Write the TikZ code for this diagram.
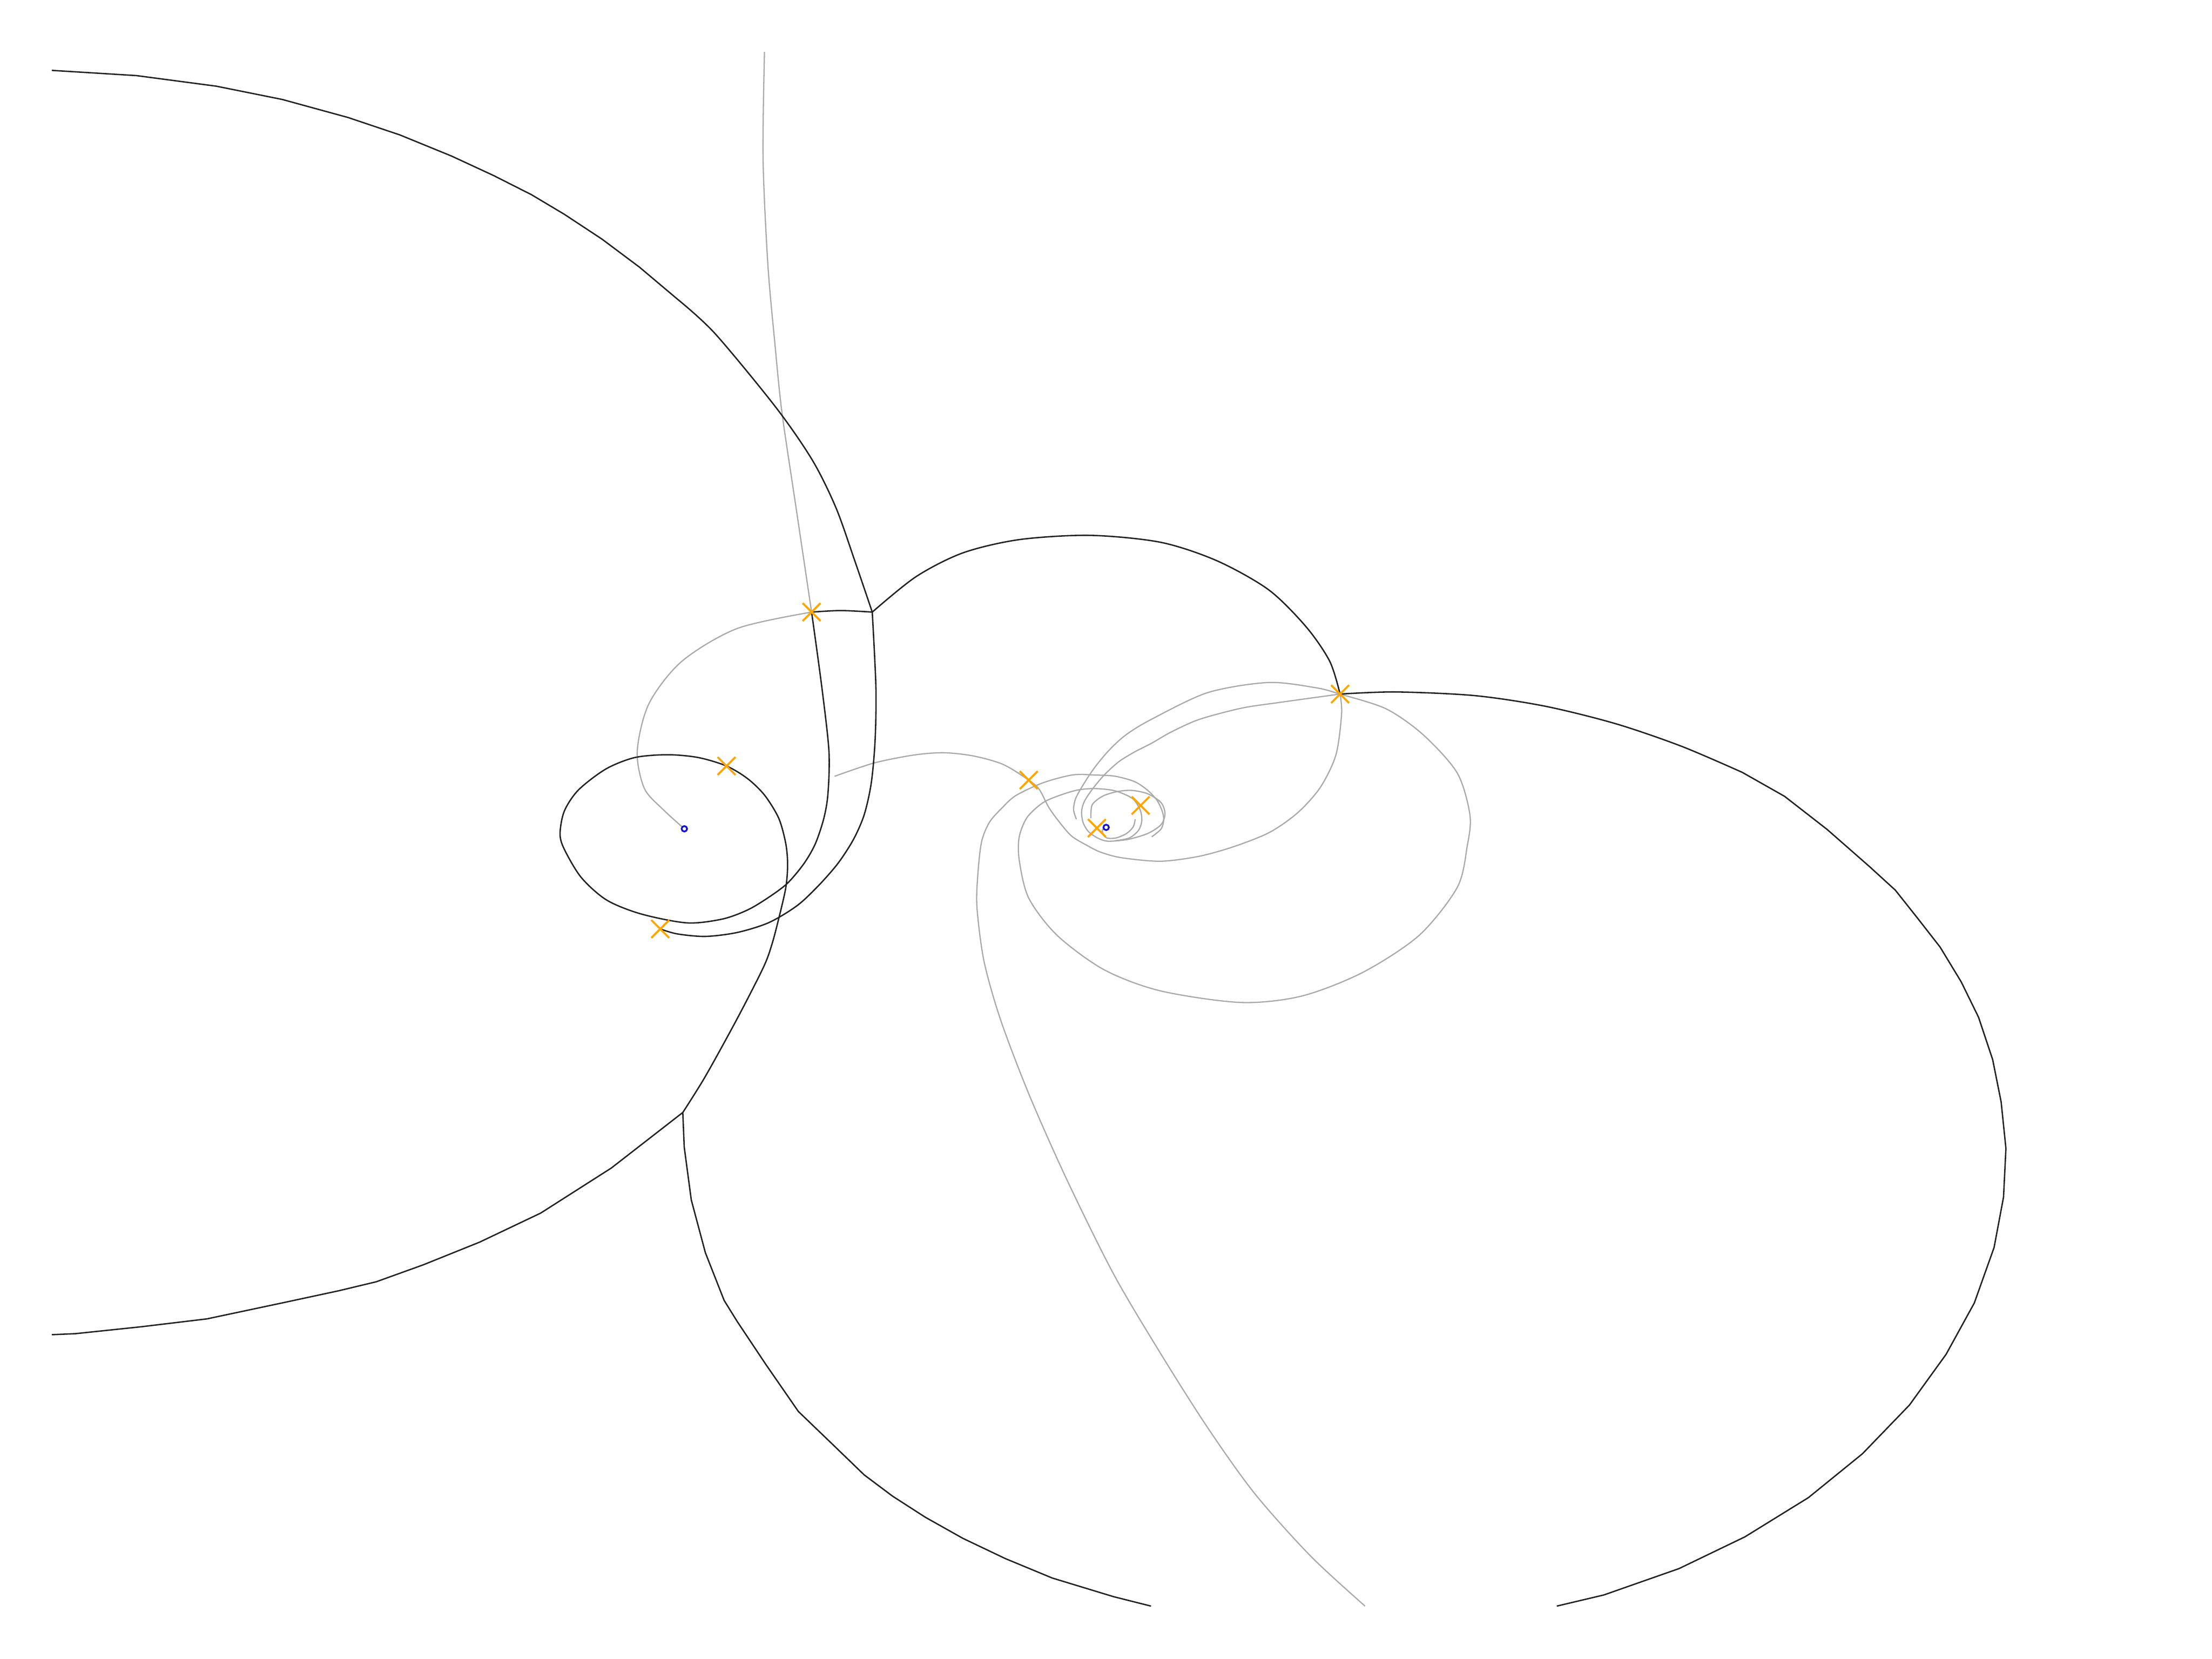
\documentclass[tikz,border=0pt]{standalone}
\usepackage{tikz,xcolor}
\usetikzlibrary{shapes.misc}

\definecolor{orbit}{RGB}{34,34,34}
\definecolor{trail}{RGB}{170,170,170}
\definecolor{hitmark}{RGB}{255,165,0}
\definecolor{bodyblue}{RGB}{20,20,215}

\tikzset{
    orbitline/.style={draw=orbit, line width=0.28pt, line join=round},
    trailline/.style={draw=trail, line width=0.25pt, line join=round},
    hit/.style={draw=hitmark, line width=0.4pt, cross out, minimum size=3.2pt, inner sep=0pt},
    body/.style={circle, draw=bodyblue, fill=white, line width=0.35pt, minimum size=1.1pt, inner sep=0pt}
}

\begin{document}
\begin{tikzpicture}

        \useasboundingbox (0,0) rectangle (15.68,-11.76);

        % Bodies
        \coordinate (b1) at (4.851,-5.875);
        \coordinate (b2) at (7.841,-5.865);

        % Junctions and hits
        \coordinate (j1) at (6.183,-4.339);
        \coordinate (j2) at (4.840,-7.886);
        \coordinate (c1) at (5.753,-4.339);
        \coordinate (c2) at (9.499,-4.920);
        \coordinate (c3) at (4.680,-6.585);
        \coordinate (c4) at (5.150,-5.430);
        \coordinate (c5) at (7.292,-5.530);
        \coordinate (c6) at (7.775,-5.870);
        \coordinate (c7) at (8.085,-5.710);

        % Grey trails
        \draw[trailline] plot[smooth] coordinates {(5.419,-0.368) (5.409,-1.125) (5.443,-1.875) (5.493,-2.438) (5.543,-2.925) (5.643,-3.600) (c1)};
        \draw[trailline] plot[smooth] coordinates {(b1) (4.700,-5.738) (4.567,-5.588) (4.517,-5.325) (4.600,-4.988) (4.833,-4.688) (5.226,-4.455) (c1)};
        \draw[trailline] plot[smooth] coordinates {(5.916,-5.503) (6.198,-5.408) (6.479,-5.352) (6.690,-5.336) (6.901,-5.359) (7.111,-5.419) (c5) (7.367,-5.596) (7.433,-5.721) (7.499,-5.814) (7.593,-5.924) (7.700,-5.990) (7.800,-6.040) (7.949,-6.080) (8.226,-6.105) (8.500,-6.070) (8.750,-6.000) (9.000,-5.900) (9.200,-5.760) (9.360,-5.580) (9.470,-5.350) (9.510,-5.060) (c2)};
        \draw[trailline] plot[smooth] coordinates {(8.164,-5.932) (8.230,-5.877) (8.249,-5.814) (8.239,-5.752) (8.202,-5.674) (8.136,-5.603) (8.043,-5.541) (7.902,-5.502) (7.761,-5.494) (7.604,-5.493) (7.393,-5.549) (7.200,-5.640) (7.100,-5.730) (7.013,-5.830) (6.957,-5.971) (6.930,-6.218) (6.926,-6.443) (6.976,-6.818) (7.093,-7.230) (7.293,-7.755) (7.559,-8.355) (7.893,-9.030) (8.226,-9.593) (8.559,-10.118) (8.893,-10.586) (9.290,-11.030) (9.676,-11.385)};
        \draw[trailline] plot[smooth] coordinates {(7.902,-5.960) (8.005,-5.940) (8.071,-5.885) (8.094,-5.814) (8.080,-5.736) (8.024,-5.658) (7.900,-5.605) (7.760,-5.590) (7.640,-5.600) (7.520,-5.635) (7.393,-5.690) (7.280,-5.795) (7.224,-5.936) (7.226,-6.105) (7.293,-6.368) (7.493,-6.630) (7.826,-6.874) (8.226,-7.024) (8.793,-7.106) (9.226,-7.061) (9.660,-6.893) (10.060,-6.630) (10.330,-6.290) (10.400,-6.000) (10.420,-5.780) (10.330,-5.480) (10.090,-5.210) (9.826,-5.025) (c2) (9.326,-4.875) (8.990,-4.838) (8.560,-4.910) (8.160,-5.100) (7.980,-5.210) (7.860,-5.320) (7.760,-5.440) (7.680,-5.560) (7.625,-5.660) (7.610,-5.740) (7.630,-5.807)};
        \draw[trailline] plot[smooth] coordinates {(c2) (9.065,-4.980) (8.800,-5.020) (8.500,-5.100) (8.300,-5.190) (8.164,-5.268) (8.043,-5.330) (7.930,-5.400) (7.827,-5.494) (7.742,-5.596) (7.686,-5.682) (7.667,-5.752) (7.677,-5.830) (7.714,-5.893) (7.780,-5.940) (7.855,-5.963) (7.996,-5.950) (8.136,-5.908) (8.230,-5.846) (8.258,-5.768) (8.230,-5.689) (8.136,-5.627) (8.024,-5.603) (7.921,-5.611) (7.818,-5.643) (7.742,-5.705) (7.733,-5.800)};
        \draw[trailline] plot[smooth] coordinates {(8.047,-5.807) (8.033,-5.861) (7.986,-5.908) (7.911,-5.940) (7.846,-5.940) (7.817,-5.908) (7.817,-5.877) (b2)};

        % Black orbits
        \draw[orbitline] (0.367,-0.499) -- (0.967,-0.536) -- (1.533,-0.611) -- (2.000,-0.705) -- (2.467,-0.833) -- (2.833,-0.956) -- (3.200,-1.106) -- (3.500,-1.245) -- (3.767,-1.380) -- (4.000,-1.519) -- (4.267,-1.695) -- (4.533,-1.894)
            -- plot[smooth] coordinates {(4.800,-2.119) (5.067,-2.363) (5.500,-2.888) (5.759,-3.263) (5.926,-3.600) (6.059,-3.975) (j1)};
        \draw[orbitline] plot[smooth] coordinates {(c1) (5.960,-4.328) (j1)};
        \draw[orbitline] plot[smooth] coordinates {(j1) (6.493,-4.088) (6.826,-3.919) (7.226,-3.825) (7.726,-3.795) (8.226,-3.844) (8.626,-3.975) (8.993,-4.181) (9.259,-4.444) (9.426,-4.688) (c2)};
        \draw[orbitline] plot[smooth] coordinates {(c2) (9.893,-4.905) (10.453,-4.931) (10.952,-5.006) (11.452,-5.130) (11.919,-5.290) (12.350,-5.475)}
            -- (12.650,-5.645) -- (12.952,-5.880) -- (13.252,-6.143) -- (13.435,-6.310) -- (13.585,-6.499) -- (13.752,-6.713) -- (13.902,-6.960) -- (14.025,-7.211) -- (14.125,-7.511) -- (14.185,-7.811) -- (14.219,-8.141) -- (14.202,-8.486) -- (14.135,-8.843) -- (13.995,-9.236) -- (13.795,-9.600) -- (13.535,-9.960) -- (13.202,-10.305) -- (12.819,-10.616) -- (12.369,-10.894) -- (11.902,-11.119) -- (11.369,-11.306) -- (11.035,-11.385);
        \draw[orbitline] plot[smooth] coordinates {(j1) (6.209,-4.875) (6.203,-5.250) (6.176,-5.550) (6.126,-5.775) (6.050,-5.950) (5.940,-6.120) (5.800,-6.280) (5.650,-6.420) (5.450,-6.540) (5.226,-6.610) (5.000,-6.638) (4.800,-6.620) (c3)};
        \draw[orbitline] plot[smooth] coordinates {(c1) (5.826,-4.875) (5.876,-5.325) (5.869,-5.625) (5.840,-5.800) (5.780,-5.980) (5.700,-6.120) (5.583,-6.260) (5.450,-6.360) (5.300,-6.450) (5.120,-6.515) (4.870,-6.542) (4.545,-6.479) (4.300,-6.380) (4.120,-6.220) (4.000,-6.020) (3.970,-5.910) (4.000,-5.750) (4.100,-5.600) (4.295,-5.451) (4.500,-5.370) (4.733,-5.350) (4.950,-5.370) (c4) (5.300,-5.520) (5.420,-5.637) (5.520,-5.800) (5.570,-5.980) (5.583,-6.130) (5.570,-6.293) (5.520,-6.512) (5.470,-6.700) (5.410,-6.860) (5.226,-7.220) (5.000,-7.630) (j2)};
        \draw[orbitline] (j2) -- (4.333,-8.280) -- (3.833,-8.599) -- (3.400,-8.805) -- (3.000,-8.966) -- (2.667,-9.086) -- (2.400,-9.150) -- (2.000,-9.236) -- (1.467,-9.349) -- (1.000,-9.405) -- (0.533,-9.454) -- (0.367,-9.461);
        \draw[orbitline] (j2) -- (4.850,-8.130) -- (4.900,-8.505) -- (5.000,-8.880) -- (5.133,-9.218) -- (5.226,-9.368) -- (5.426,-9.668) -- (5.659,-10.005) -- (5.893,-10.230) -- (6.126,-10.455) -- (6.326,-10.605) -- (6.559,-10.755) -- (6.826,-10.905) -- (7.126,-11.048) -- (7.459,-11.186) -- (7.893,-11.318) -- (8.159,-11.385);

        % Hit markers
        \foreach \c in {c1,c2,c3,c4,c5,c6,c7}
            \node[hit] (m\c) at (\c) {};

        % Bodies on top
        \node[body] (n1) at (b1) {};
        \node[body] (n2) at (b2) {};

\end{tikzpicture}
\end{document}
